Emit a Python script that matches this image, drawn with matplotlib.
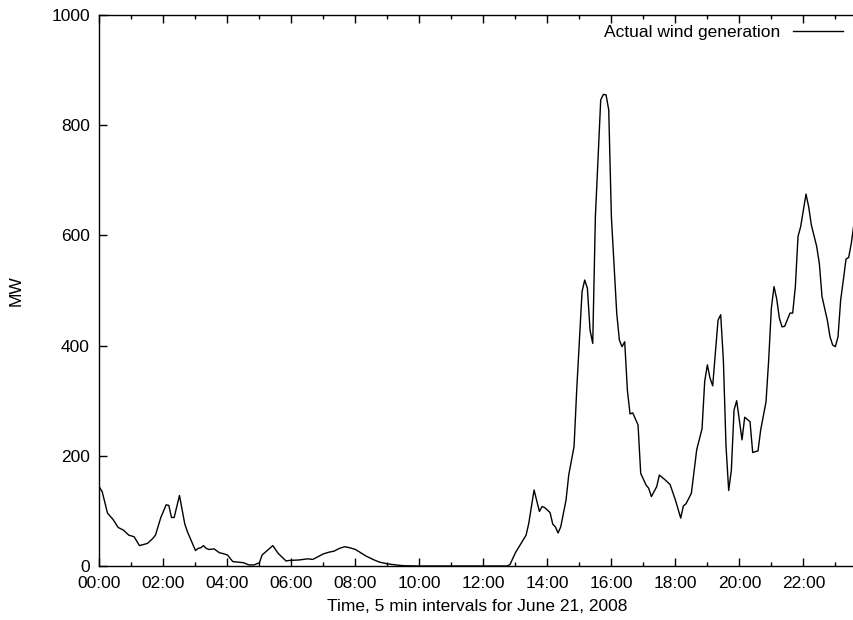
import numpy as np
import matplotlib
matplotlib.use("Agg")
import matplotlib.pyplot as plt
from matplotlib.ticker import MultipleLocator, FuncFormatter

# wind generation, 5 min resolution where it moves
times = [
    "00:00", "00:05", "00:15", "00:25", "00:35", "00:45", "00:55", "01:05", "01:15", "01:30",
    "01:40", "01:45", "01:55", "02:05", "02:10", "02:15", "02:20", "02:30", "02:40", "02:45",
    "03:00", "03:05", "03:10", "03:15", "03:20", "03:25", "03:35", "03:45", "03:50", "04:00",
    "04:10", "04:30", "04:40", "04:50", "05:00", "05:05", "05:25", "05:35", "05:50", "05:55",
    "06:15", "06:30", "06:40", "07:00", "07:10", "07:20", "07:30", "07:40", "07:50", "08:00",
    "08:10", "08:20", "08:35", "08:45", "09:00", "09:15", "09:30", "10:00", "11:00", "12:00",
    "12:45", "12:50", "13:00", "13:05", "13:20", "13:25", "13:35", "13:45", "13:50", "13:55",
    "14:05", "14:10", "14:15", "14:20", "14:25", "14:35", "14:40", "14:50", "14:55", "15:05",
    "15:10", "15:15", "15:20", "15:25", "15:30", "15:40", "15:45", "15:50", "15:55", "16:00",
    "16:10", "16:15", "16:20", "16:25", "16:30", "16:35", "16:40", "16:50", "16:55", "17:05",
    "17:10", "17:15", "17:25", "17:30", "17:40", "17:50", "18:00", "18:10", "18:15", "18:20",
    "18:30", "18:40", "18:50", "18:55", "19:00", "19:05", "19:10", "19:20", "19:25", "19:30",
    "19:35", "19:40", "19:45", "19:50", "19:55", "20:05", "20:10", "20:20", "20:25", "20:35",
    "20:40", "20:50", "20:55", "21:00", "21:05", "21:10", "21:15", "21:20", "21:25", "21:35",
    "21:40", "21:45", "21:50", "21:55", "22:05", "22:10", "22:15", "22:25", "22:30", "22:35",
    "22:45", "22:50", "22:55", "23:00", "23:05", "23:10", "23:15", "23:20", "23:25", "23:30",
    "23:35",
]
mw = [
    143, 135, 96, 85, 70, 65, 56, 53, 37, 41,
    50, 56, 88, 111, 110, 88, 88, 128, 76, 62,
    28, 32, 33, 37, 32, 30, 31, 24, 23, 20,
    8, 6, 2, 2, 6, 20, 37, 23, 9, 10,
    11, 13, 12, 22, 25, 27, 32, 35, 33, 30,
    24, 18, 11, 7, 4, 2, 0.5, 0, 0, 0,
    0, 3, 24, 32, 56, 77, 138, 99, 108, 106,
    97, 76, 71, 60, 71, 120, 165, 217, 320, 498,
    519, 504, 428, 404, 634, 846, 856, 855, 828, 634,
    459, 410, 398, 407, 319, 276, 278, 256, 168, 147,
    141, 126, 144, 165, 157, 148, 120, 87, 109, 113,
    132, 211, 249, 335, 365, 341, 327, 446, 456, 374,
    217, 137, 174, 283, 300, 229, 270, 262, 206, 209,
    247, 298, 374, 468, 507, 485, 450, 434, 435, 459,
    459, 507, 598, 616, 675, 652, 619, 580, 549, 489,
    446, 416, 401, 398, 416, 483, 519, 557, 560, 586,
    622,
]

hours = np.array([int(t[:2]) + int(t[3:]) / 60 for t in times])

plt.rcParams['font.family'] = ['Liberation Sans', 'DejaVu Sans']
fs = 12.5

fig = plt.figure(figsize=(8.54, 6.2), dpi=100)
ax = fig.add_axes([0.1165, 0.0871, 0.8835, 0.8887])

ax.plot(hours, mw, color='black', linewidth=1.0, label='Actual wind generation')

ax.set_xlim(0, hours[-1])
ax.set_ylim(0, 1000)
ax.xaxis.set_major_locator(MultipleLocator(2))
ax.xaxis.set_minor_locator(MultipleLocator(1))
ax.xaxis.set_major_formatter(FuncFormatter(lambda v, p: f"{int(round(v)):02d}:00"))
ax.yaxis.set_major_locator(MultipleLocator(200))

ax.tick_params(which='both', direction='in', top=True, right=False, labelsize=fs, width=1.0)
ax.tick_params(which='major', length=6)
ax.tick_params(which='minor', length=3)
ax.tick_params(axis='x', pad=7.5)
ax.tick_params(axis='y', pad=7)
ax.spines['right'].set_visible(False)
for s in ['left', 'bottom', 'top']:
    ax.spines[s].set_linewidth(1.0)

ax.set_xlabel('Time, 5 min intervals for June 21, 2008', fontsize=fs, labelpad=5.5)
ax.set_ylabel('MW', fontsize=fs, labelpad=20)

ax.legend(loc='upper right', bbox_to_anchor=(0.9854, 0.982), frameon=False,
          markerfirst=False, fontsize=fs, handlelength=2.9, handletextpad=0.7,
          borderpad=0, borderaxespad=0)

plt.savefig('out.png', dpi=100)
